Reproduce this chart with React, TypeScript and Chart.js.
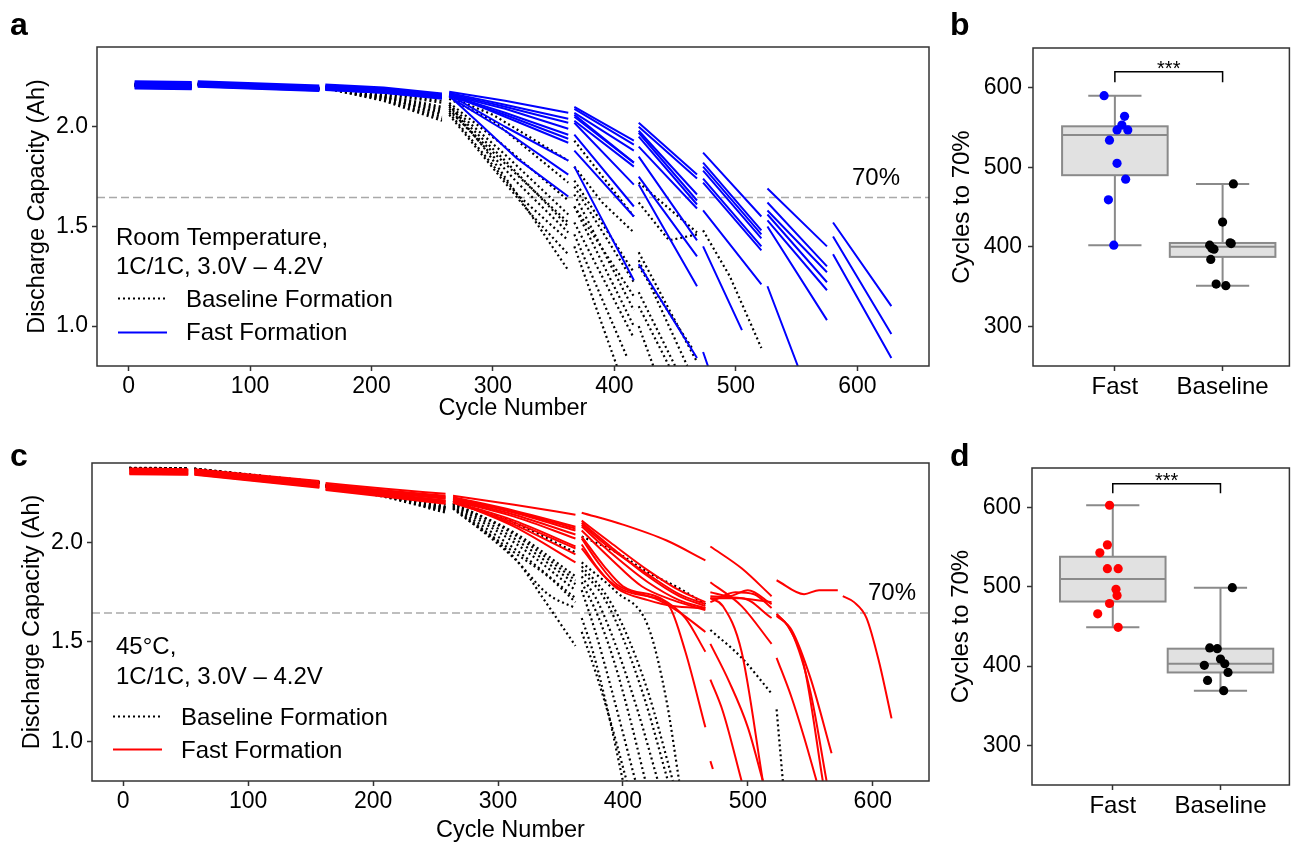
import React, { useEffect, useRef } from "react";
import { Chart, registerables } from "chart.js";
Chart.register(...registerables);

const FONT = "'Liberation Sans', Arial, Helvetica, sans-serif";

type Cell = number[][][];

// ---------------- Panel a : room temperature ----------------
const rtXTicks = [0, 100, 200, 300, 400, 500, 600];
const rtYTicks = [1.0, 1.5, 2.0];
const rtYTickLabels = ["1.0", "1.5", "2.0"];

const rtFastCells: Cell[] = [
  [[[5,2.228],[52,2.224]],[[57,2.228],[157,2.207]],[[162,2.212],[210,2.197],[258,2.167]],[[264,2.175],[310,2.13],[362,2.07]],[[367,2.10],[416,1.93]],[[420,2.02],[468,1.76]],[[473,1.87],[521,1.55]],[[526,1.69],[575,1.40]],[[580,1.52],[628,1.10]]],
  [[[5,2.222],[52,2.218]],[[57,2.223],[157,2.201]],[[162,2.206],[210,2.191],[258,2.161]],[[264,2.17],[310,2.11],[362,2.04]],[[367,2.09],[416,1.91]],[[420,2.0],[468,1.74]],[[473,1.82],[521,1.48]],[[526,1.62],[575,1.30]],[[580,1.45],[628,0.96]]],
  [[[5,2.215],[52,2.21]],[[57,2.218],[157,2.195]],[[162,2.2],[210,2.185],[258,2.155]],[[264,2.165],[310,2.1],[362,2.02]],[[367,2.07],[416,1.88]],[[420,1.98],[468,1.66]],[[473,1.8],[521,1.46]],[[526,1.58],[575,1.27]],[[580,1.36],[628,0.84]]],
  [[[5,2.208],[52,2.203]],[[57,2.212],[157,2.189]],[[162,2.195],[210,2.179],[258,2.149]],[[264,2.16],[310,2.09],[362,1.99]],[[367,2.06],[416,1.82]],[[420,1.97],[468,1.63]],[[473,1.78],[521,1.44]],[[526,1.56],[575,1.22]]],
  [[[5,2.2],[52,2.195]],[[57,2.206],[157,2.184]],[[162,2.189],[210,2.174],[258,2.145]],[[264,2.16],[310,2.07],[362,1.96]],[[367,2.05],[416,1.82]],[[420,1.95],[468,1.61]],[[473,1.74],[521,1.40]],[[526,1.53],[575,1.18]]],
  [[[5,2.192],[52,2.188]],[[57,2.2],[157,2.179]],[[162,2.184],[210,2.17],[258,2.141]],[[264,2.155],[310,2.06],[362,1.94]],[[367,2.03],[416,1.8]],[[420,1.9],[468,1.59]],[[473,1.72],[521,1.38]],[[526,1.5],[575,1.03]]],
  [[[5,2.219],[52,2.213]],[[57,2.221],[157,2.198]],[[162,2.203],[210,2.187],[258,2.156]],[[264,2.165],[310,2.05],[362,1.92]],[[367,2.02],[416,1.71]],[[420,1.85],[468,1.43]],[[473,1.58],[521,1.21]],[[526,1.2],[551,0.8]]],
  [[[5,2.211],[52,2.206]],[[57,2.215],[157,2.192]],[[162,2.197],[210,2.18],[258,2.152]],[[264,2.16],[310,2.0],[362,1.83]],[[367,1.96],[416,1.6]],[[420,1.75],[468,1.35]],[[473,1.4],[505,0.98]]],
  [[[5,2.204],[52,2.199]],[[57,2.209],[157,2.187]],[[162,2.192],[210,2.173],[258,2.148]],[[264,2.155],[290,2.01],[320,1.84],[362,1.65]],[[367,1.8],[416,1.23]],[[420,1.31],[468,0.84]],[[473,0.87],[477,0.8]]],
  [[[5,2.196],[52,2.191]],[[57,2.203],[157,2.182]],[[162,2.186],[210,2.17],[258,2.144]],[[264,2.15],[310,1.98],[362,1.76]],[[367,1.88],[416,1.55]],[[420,1.71],[468,1.2]]],
];

const rtBaselineCells: Cell[] = [
  [[[5,2.215],[52,2.21]],[[57,2.218],[157,2.195]],[[162,2.2],[210,2.17],[258,2.13]],[[264,2.15],[300,2.06],[362,1.83]],[[367,1.93],[416,1.55]],[[420,1.72],[468,1.47]],[[473,1.48],[495,1.25],[521,0.89]]],
  [[[5,2.21],[52,2.205]],[[57,2.214],[157,2.192]],[[162,2.2],[210,2.165],[258,2.12]],[[264,2.14],[300,2.03],[362,1.72]],[[367,1.8],[390,1.62],[416,1.47]],[[420,1.62],[445,1.43],[468,1.46]]],
  [[[5,2.212],[52,2.207]],[[57,2.215],[157,2.193]],[[162,2.198],[210,2.16],[258,2.1]],[[264,2.12],[310,1.9],[362,1.63]],[[367,1.73],[416,1.27]],[[420,1.37],[468,0.82]]],
  [[[5,2.208],[52,2.203]],[[57,2.212],[157,2.19]],[[162,2.198],[210,2.155],[258,2.09]],[[264,2.11],[310,1.86],[362,1.56]],[[367,1.7],[416,1.22]],[[420,1.33],[460,0.8]]],
  [[[5,2.206],[52,2.2]],[[57,2.21],[157,2.188]],[[162,2.196],[210,2.15],[258,2.08]],[[264,2.1],[310,1.83],[362,1.5]],[[367,1.66],[416,1.08]],[[420,1.17],[450,0.8]]],
  [[[5,2.204],[52,2.198]],[[57,2.208],[157,2.186]],[[162,2.195],[210,2.145],[258,2.07]],[[264,2.09],[320,1.72],[362,1.47]],[[367,1.6],[416,1.0]],[[420,1.1],[445,0.8]]],
  [[[5,2.214],[52,2.208]],[[57,2.216],[157,2.194]],[[162,2.194],[210,2.14],[258,2.05]],[[264,2.07],[320,1.66],[362,1.43]],[[367,1.52],[416,0.94]],[[420,1.0],[432,0.8]]],
  [[[5,2.21],[52,2.204]],[[57,2.213],[157,2.19]],[[162,2.193],[210,2.13],[258,2.03]],[[264,2.11],[292,1.9],[319,1.67],[341,1.47],[362,1.28]],[[367,1.4],[402,0.8]]],
  [[[5,2.207],[52,2.202]],[[57,2.211],[157,2.189]],[[162,2.193],[210,2.135],[258,2.04]],[[264,2.06],[330,1.57],[362,1.36]],[[367,1.46],[410,0.85]]],
  [[[5,2.205],[52,2.199]],[[57,2.209],[157,2.187]],[[162,2.196],[210,2.15],[258,2.06]],[[264,2.08],[330,1.7],[362,1.52]],[[367,1.6],[416,1.15]],[[420,1.3],[465,0.88]]],
];

// ---------------- Panel c : 45 °C ----------------
const htXTicks = [0, 100, 200, 300, 400, 500, 600];
const htYTicks = [1.0, 1.5, 2.0];
const htYTickLabels = ["1.0", "1.5", "2.0"];

const htFastCells: Cell[] = [
  [[[5,2.372],[52,2.369]],[[57,2.369],[157,2.31]],[[162,2.30],[210,2.27],[258,2.245]],[[264,2.235],[313,2.19],[362,2.14]],[[367,2.15],[400,2.09],[435,2.01],[466,1.91]],[[470,1.98],[495,1.87],[519,1.73]],[[523,1.81],[545,1.74],[557,1.76],[572,1.76]],[[576,1.73],[585,1.70],[595,1.62],[605,1.40],[615,1.115]]],
  [[[5,2.366],[52,2.363]],[[57,2.363],[157,2.30]],[[162,2.292],[210,2.262],[258,2.235]],[[264,2.228],[313,2.16],[362,2.08]],[[367,2.11],[390,2.0],[420,1.86],[445,1.76],[466,1.70]],[[470,1.75],[485,1.73],[500,1.76],[519,1.69]],[[523,1.63],[535,1.56],[550,1.32],[567,0.94]]],
  [[[5,2.362],[52,2.359]],[[57,2.359],[157,2.297]],[[162,2.287],[210,2.256],[258,2.225]],[[264,2.22],[313,2.155],[362,2.07]],[[367,2.10],[390,1.98],[420,1.83],[445,1.73],[466,1.68]],[[470,1.70],[490,1.75],[505,1.74],[519,1.67]],[[523,1.64],[535,1.55],[550,1.25],[563,0.80]]],
  [[[5,2.357],[52,2.354]],[[57,2.354],[157,2.292]],[[162,2.282],[210,2.25],[258,2.22]],[[264,2.215],[313,2.14],[362,2.04]],[[367,2.08],[390,1.95],[420,1.80],[445,1.71],[466,1.67]],[[470,1.72],[495,1.72],[519,1.62]],[[523,1.42],[535,1.22],[545,1.02],[555,0.80]]],
  [[[5,2.352],[52,2.349]],[[57,2.349],[157,2.287]],[[162,2.277],[210,2.244],[258,2.21]],[[264,2.21],[313,2.13],[362,2.02]],[[367,2.06],[390,1.92],[415,1.78],[440,1.71],[466,1.66]],[[470,1.80],[495,1.68],[519,1.49]]],
  [[[5,2.346],[52,2.343]],[[57,2.343],[157,2.279]],[[162,2.268],[210,2.235],[258,2.20]],[[264,2.205],[313,2.11],[362,1.98]],[[367,2.03],[385,1.88],[400,1.78],[430,1.72],[450,1.62],[466,1.45]],[[470,1.49],[485,1.30],[500,1.07],[512,0.80]]],
  [[[5,2.344],[52,2.341]],[[57,2.341],[157,2.275]],[[162,2.264],[210,2.23],[258,2.195]],[[264,2.2],[313,2.10],[362,1.97]],[[367,2.02],[380,1.90],[395,1.79],[420,1.73],[437,1.68],[450,1.45],[466,1.07]],[[470,0.90],[472,0.86]]],
  [[[5,2.36],[52,2.357]],[[57,2.357],[157,2.29]],[[162,2.28],[210,2.245],[258,2.21]],[[264,2.21],[313,2.08],[362,1.90]],[[367,1.97],[385,1.83],[400,1.76],[425,1.72],[445,1.65],[466,1.55]],[[470,1.31],[480,1.15],[495,0.80]]],
  [[[5,2.35],[52,2.347]],[[57,2.347],[157,2.283]],[[162,2.272],[210,2.24],[258,2.205]],[[264,2.205],[313,2.09],[362,1.94]],[[367,1.99],[380,1.87],[395,1.77],[420,1.71],[440,1.68],[466,1.67]],[[470,1.72],[480,1.68],[495,1.45],[512,0.80]]],
  [[[5,2.368],[52,2.365]],[[57,2.365],[157,2.302]],[[162,2.292],[210,2.26],[258,2.23]],[[264,2.222],[313,2.15],[362,2.06]],[[367,2.09],[390,1.97],[420,1.84],[445,1.74],[466,1.69]],[[470,1.73],[495,1.72],[519,1.70]],[[523,1.64],[532,1.58],[545,1.38],[560,0.80]]],
];

const htBaselineCells: Cell[] = [
  [[[5,2.376],[52,2.374]],[[57,2.372],[157,2.305]],[[162,2.29],[210,2.25],[258,2.19]],[[264,2.21],[313,2.10],[362,1.95]],[[367,2.03],[395,1.95],[420,1.85],[445,1.77],[466,1.69]],[[470,1.56],[495,1.42],[519,1.24]],[[523,1.16],[528,0.80]]],
  [[[5,2.374],[52,2.372]],[[57,2.37],[157,2.302]],[[162,2.288],[210,2.245],[258,2.18]],[[264,2.20],[313,2.04],[362,1.81]],[[367,1.88],[385,1.75],[400,1.58],[420,1.25],[440,0.80]]],
  [[[5,2.375],[52,2.373]],[[57,2.371],[157,2.301]],[[162,2.286],[210,2.24],[258,2.175]],[[264,2.195],[313,2.02],[362,1.79]],[[367,1.86],[385,1.72],[400,1.52],[418,1.20],[436,0.80]]],
  [[[5,2.373],[52,2.371]],[[57,2.369],[157,2.3]],[[162,2.285],[210,2.238],[258,2.17]],[[264,2.19],[313,2.0],[362,1.76]],[[367,1.83],[380,1.70],[395,1.47],[412,1.15],[428,0.80]]],
  [[[5,2.374],[52,2.372]],[[57,2.37],[157,2.3]],[[162,2.284],[210,2.235],[258,2.165]],[[264,2.185],[313,1.97],[362,1.72]],[[367,1.80],[380,1.63],[393,1.40],[405,1.13],[418,0.80]]],
  [[[5,2.375],[52,2.373]],[[57,2.371],[157,2.3]],[[162,2.283],[210,2.232],[258,2.16]],[[264,2.18],[313,1.95],[340,1.83],[362,1.70]],[[367,1.76],[378,1.55],[390,1.28],[410,0.80]]],
  [[[5,2.373],[52,2.371]],[[57,2.369],[157,2.299]],[[162,2.282],[210,2.23],[258,2.155]],[[264,2.175],[313,1.92],[340,1.74],[362,1.67]],[[367,1.62],[376,1.45],[388,1.15],[400,0.80]]],
  [[[5,2.374],[52,2.372]],[[57,2.37],[157,2.3]],[[162,2.28],[210,2.228],[258,2.15]],[[264,2.17],[315,1.91],[336,1.72],[362,1.48]],[[367,1.55],[378,1.35],[390,1.10],[403,0.80]]],
  [[[5,2.375],[52,2.373]],[[57,2.371],[157,2.301]],[[162,2.287],[210,2.243],[258,2.178]],[[264,2.197],[313,2.05],[362,1.83]],[[367,1.90],[395,1.75],[420,1.58],[435,1.20],[445,0.80]]],
];

// ---------------- Panels b, d : cycles to 70% ----------------
const groupLabels = ["Fast", "Baseline"];
const boxYTicks = [300, 400, 500, 600];

const rtFastCycles = [590, 564, 553, 547, 547, 534, 505, 485, 459, 402];
const rtFastJitter = [-0.1, 0.09, 0.065, 0.02, 0.12, -0.05, 0.02, 0.1, -0.06, -0.01];
const rtBaseCycles = [479, 431, 405, 404, 402, 398, 397, 384, 353, 351];
const rtBaseJitter = [0.1, 0.0, 0.07, 0.08, -0.12, -0.1, -0.08, -0.11, -0.06, 0.03];

const htFastCycles = [603, 553, 543, 523, 523, 497, 489, 479, 466, 449];
const htFastJitter = [-0.03, -0.05, -0.12, -0.05, 0.05, 0.03, 0.04, -0.03, -0.14, 0.05];
const htBaseCycles = [499, 423, 422, 409, 403, 401, 392, 382, 369];
const htBaseJitter = [0.11, -0.1, -0.03, 0.0, 0.04, -0.15, 0.07, -0.12, 0.03];

// ---------------- helpers ----------------
function cellToData(cell: Cell) {
  const out: { x: number; y: number | null }[] = [];
  cell.forEach((seg, i) => {
    if (i > 0) {
      const prev = cell[i - 1];
      out.push({ x: (prev[prev.length - 1][0] + seg[0][0]) / 2, y: null });
    }
    seg.forEach(([x, y]) => out.push({ x, y }));
  });
  return out;
}

function quantile(sorted: number[], q: number) {
  const pos = (sorted.length - 1) * q;
  const lo = Math.floor(pos);
  const hi = Math.ceil(pos);
  return sorted[lo] + (sorted[hi] - sorted[lo]) * (pos - lo);
}

function font(size: number, bold = false) {
  return `${bold ? "bold " : ""}${size}px ${FONT}`;
}

type TextItem = { text: string; x: number; y: number; size: number; bold?: boolean };
type Sample = { x1: number; x2: number; y: number; dotted: boolean; color: string };

interface LineCfg {
  left: number; top: number; w: number; h: number;
  area: { left: number; right: number; top: number; bottom: number };
  xMin: number; xMax: number; xTicks: number[];
  yMin: number; yMax: number; yTicks: number[]; yTickLabels: string[];
  fast: Cell[]; base: Cell[]; color: string; thresh: number; smooth: boolean;
  yTitleOffset: number;
  texts: TextItem[]; samples: Sample[];
}

function axisCommon() {
  return {
    grid: { display: true, drawOnChartArea: false, drawTicks: true, tickLength: 5, tickWidth: 1.5, tickColor: "#333" },
    border: { display: false },
  };
}

function drawFrame(chart: any) {
  const { ctx, chartArea: a } = chart;
  ctx.save();
  ctx.strokeStyle = "#333";
  ctx.lineWidth = 1.5;
  ctx.strokeRect(a.left, a.top, a.right - a.left, a.bottom - a.top);
  ctx.restore();
}

function drawTexts(ctx: CanvasRenderingContext2D, texts: TextItem[]) {
  ctx.save();
  ctx.fillStyle = "#000";
  ctx.textBaseline = "alphabetic";
  ctx.textAlign = "left";
  texts.forEach((t) => {
    ctx.font = font(t.size, t.bold);
    ctx.fillText(t.text, t.x, t.y);
  });
  ctx.restore();
}

function buildLineChart(canvas: HTMLCanvasElement, c: LineCfg) {
  const datasets: any[] = [];
  const interp = c.smooth ? { cubicInterpolationMode: "monotone" } : {};
  c.fast.forEach((cell) =>
    datasets.push({
      data: cellToData(cell), borderColor: c.color, borderWidth: 2, pointRadius: 0, order: 0,
      borderJoinStyle: "round", spanGaps: false, ...interp,
    })
  );
  c.base.forEach((cell) =>
    datasets.push({
      data: cellToData(cell), borderColor: "#000", borderWidth: 2.2, borderDash: [2, 3], pointRadius: 0, order: 1,
      spanGaps: false, ...interp,
    })
  );
  const decor = {
    id: "decor",
    beforeDatasetsDraw(chart: any) {
      const { ctx, chartArea: a } = chart;
      const y = chart.scales.y.getPixelForValue(c.thresh);
      ctx.save();
      ctx.strokeStyle = "#a9a9a9";
      ctx.lineWidth = 1.6;
      ctx.setLineDash([8, 4]);
      ctx.beginPath();
      ctx.moveTo(a.left, y);
      ctx.lineTo(a.right, y);
      ctx.stroke();
      ctx.restore();
    },
    afterDraw(chart: any) {
      const ctx = chart.ctx;
      drawFrame(chart);
      drawTexts(ctx, c.texts);
      c.samples.forEach((s) => {
        ctx.save();
        ctx.strokeStyle = s.color;
        ctx.lineWidth = s.dotted ? 2.2 : 2;
        if (s.dotted) ctx.setLineDash([2, 3]);
        ctx.beginPath();
        ctx.moveTo(s.x1, s.y);
        ctx.lineTo(s.x2, s.y);
        ctx.stroke();
        ctx.restore();
      });
    },
  };
  return new Chart(canvas, {
    type: "line",
    data: { datasets },
    options: {
      animation: false,
      responsive: false,
      devicePixelRatio: 1,
      events: [],
      layout: { padding: { top: c.area.top, right: c.w - c.area.right, left: 0, bottom: 0 } },
      plugins: { legend: { display: false }, tooltip: { enabled: false } },
      scales: {
        x: {
          type: "linear", min: c.xMin, max: c.xMax,
          ...axisCommon(),
          afterBuildTicks: (s: any) => { s.ticks = c.xTicks.map((v) => ({ value: v })); },
          afterFit: (s: any) => { s.height = c.h - c.area.bottom; },
          ticks: { font: { size: 23, family: FONT }, color: "#000", padding: 2, maxRotation: 0, autoSkip: false,
            callback: (v: any) => String(v) },
          title: { display: true, text: "Cycle Number", color: "#000", font: { size: 23.5, family: FONT, lineHeight: 1 }, padding: { top: 0, bottom: 0 } },
        },
        y: {
          type: "linear", min: c.yMin, max: c.yMax,
          ...axisCommon(),
          afterBuildTicks: (s: any) => { s.ticks = c.yTicks.map((v) => ({ value: v })); },
          afterFit: (s: any) => { s.width = c.area.left; },
          ticks: { font: { size: 23, family: FONT }, color: "#000", padding: 4,
            callback: (v: any) => { const i = c.yTicks.indexOf(v); return i >= 0 ? c.yTickLabels[i] : ""; } },
          title: { display: true, text: "Discharge Capacity (Ah)", color: "#000", font: { size: 23.5, family: FONT, lineHeight: 1 }, padding: { top: c.yTitleOffset, bottom: 0 } },
        },
      },
    } as any,
    plugins: [decor],
  });
}

interface Group { values: number[]; jitter: number[]; color: string }
interface BoxCfg {
  left: number; top: number; w: number; h: number;
  area: { left: number; right: number; top: number; bottom: number };
  xMin: number; xMax: number;
  groups: Group[];
  bracket: { top: number; leg: number };
  yTitleOffset: number;
  texts: TextItem[];
}

function buildBoxChart(canvas: HTMLCanvasElement, c: BoxCfg) {
  const datasets = c.groups.map((g, gi) => ({
    data: g.values.map((v, i) => ({ x: gi + g.jitter[i], y: v })),
    pointRadius: 4.6, pointBackgroundColor: g.color, pointBorderWidth: 0, showLine: false,
  }));
  const decor = {
    id: "boxes",
    beforeDatasetsDraw(chart: any) {
      const { ctx } = chart;
      const xs = chart.scales.x, ys = chart.scales.y;
      c.groups.forEach((g, gi) => {
        const s = [...g.values].sort((a, b) => a - b);
        const q1 = quantile(s, 0.25), med = quantile(s, 0.5), q3 = quantile(s, 0.75);
        const lo = s[0], hi = s[s.length - 1];
        const xl = xs.getPixelForValue(gi - 0.49), xr = xs.getPixelForValue(gi + 0.49);
        const xc = xs.getPixelForValue(gi);
        const cl = xs.getPixelForValue(gi - 0.247), cr = xs.getPixelForValue(gi + 0.247);
        ctx.save();
        ctx.strokeStyle = "#8a8a8a";
        ctx.lineWidth = 2;
        ctx.beginPath();
        ctx.moveTo(xc, ys.getPixelForValue(q3)); ctx.lineTo(xc, ys.getPixelForValue(hi));
        ctx.moveTo(xc, ys.getPixelForValue(q1)); ctx.lineTo(xc, ys.getPixelForValue(lo));
        ctx.moveTo(cl, ys.getPixelForValue(hi)); ctx.lineTo(cr, ys.getPixelForValue(hi));
        ctx.moveTo(cl, ys.getPixelForValue(lo)); ctx.lineTo(cr, ys.getPixelForValue(lo));
        ctx.stroke();
        const yt = ys.getPixelForValue(q3), yb = ys.getPixelForValue(q1);
        ctx.fillStyle = "#e1e1e1";
        ctx.fillRect(xl, yt, xr - xl, yb - yt);
        ctx.strokeRect(xl, yt, xr - xl, yb - yt);
        ctx.beginPath();
        ctx.moveTo(xl, ys.getPixelForValue(med)); ctx.lineTo(xr, ys.getPixelForValue(med));
        ctx.stroke();
        ctx.restore();
      });
    },
    afterDraw(chart: any) {
      const { ctx } = chart;
      const xs = chart.scales.x, ys = chart.scales.y;
      drawFrame(chart);
      const x0 = xs.getPixelForValue(0), x1 = xs.getPixelForValue(1);
      const yt = ys.getPixelForValue(c.bracket.top), yl = ys.getPixelForValue(c.bracket.leg);
      ctx.save();
      ctx.strokeStyle = "#000";
      ctx.lineWidth = 1.5;
      ctx.beginPath();
      ctx.moveTo(x0, yl); ctx.lineTo(x0, yt); ctx.lineTo(x1, yt); ctx.lineTo(x1, yl);
      ctx.stroke();
      ctx.fillStyle = "#000";
      ctx.font = font(20);
      ctx.textAlign = "center";
      ctx.textBaseline = "alphabetic";
      ctx.fillText("***", (x0 + x1) / 2, yt + 3);
      ctx.restore();
      drawTexts(ctx, c.texts);
    },
  };
  return new Chart(canvas, {
    type: "scatter",
    data: { datasets },
    options: {
      animation: false,
      responsive: false,
      devicePixelRatio: 1,
      events: [],
      layout: { padding: { top: c.area.top, right: c.w - c.area.right, left: 0, bottom: 0 } },
      plugins: { legend: { display: false }, tooltip: { enabled: false } },
      scales: {
        x: {
          type: "linear", min: c.xMin, max: c.xMax,
          ...axisCommon(),
          afterBuildTicks: (s: any) => { s.ticks = groupLabels.map((_, i) => ({ value: i })); },
          afterFit: (s: any) => { s.height = c.h - c.area.bottom; },
          ticks: { font: { size: 24, family: FONT }, color: "#000", padding: 2, maxRotation: 0, autoSkip: false,
            callback: (v: any) => groupLabels[v] ?? "" },
        },
        y: {
          type: "linear", min: 250, max: 650,
          ...axisCommon(),
          afterBuildTicks: (s: any) => { s.ticks = boxYTicks.map((v) => ({ value: v })); },
          afterFit: (s: any) => { s.width = c.area.left; },
          ticks: { font: { size: 23, family: FONT }, color: "#000", padding: 6, callback: (v: any) => String(v) },
          title: { display: true, text: "Cycles to 70%", color: "#000", font: { size: 24, family: FONT, lineHeight: 1 }, padding: { top: c.yTitleOffset, bottom: 0 } },
        },
      },
    } as any,
    plugins: [decor],
  });
}

// ---------------- panel configs ----------------
const panelA: LineCfg = {
  left: 0, top: 0, w: 940, h: 420,
  area: { left: 97, right: 929, top: 47, bottom: 366 },
  xMin: -26, xMax: 659, xTicks: rtXTicks,
  yMin: 0.8, yMax: 2.4, yTicks: rtYTicks, yTickLabels: rtYTickLabels,
  fast: rtFastCells, base: rtBaselineCells, color: "#0000ff", thresh: 1.645, smooth: false,
  yTitleOffset: 25.5,
  texts: [
    { text: "a", x: 10, y: 35, size: 32, bold: true },
    { text: "Room Temperature,", x: 116, y: 245, size: 24 },
    { text: "1C/1C, 3.0V \u2013 4.2V", x: 116, y: 273.5, size: 24 },
    { text: "Baseline Formation", x: 186, y: 306.5, size: 24 },
    { text: "Fast Formation", x: 186, y: 340, size: 24 },
    { text: "70%", x: 852, y: 185, size: 24 },
  ],
  samples: [
    { x1: 118, x2: 167, y: 298.5, dotted: true, color: "#000" },
    { x1: 118, x2: 167, y: 332.5, dotted: false, color: "#0000ff" },
  ],
};

const panelC: LineCfg = {
  left: 0, top: 420, w: 940, h: 422,
  area: { left: 92, right: 929, top: 43, bottom: 361 },
  xMin: -25, xMax: 645, xTicks: htXTicks,
  yMin: 0.8, yMax: 2.4, yTicks: htYTicks, yTickLabels: htYTickLabels,
  fast: htFastCells, base: htBaselineCells, color: "#ff0000", thresh: 1.645, smooth: true,
  yTitleOffset: 20.5,
  texts: [
    { text: "c", x: 10, y: 46, size: 32, bold: true },
    { text: "45\u00B0C,", x: 116, y: 234, size: 24 },
    { text: "1C/1C, 3.0V \u2013 4.2V", x: 116, y: 263.5, size: 24 },
    { text: "Baseline Formation", x: 181, y: 304.5, size: 24 },
    { text: "Fast Formation", x: 181, y: 338, size: 24 },
    { text: "70%", x: 868, y: 180, size: 24 },
  ],
  samples: [
    { x1: 113, x2: 162, y: 296.5, dotted: true, color: "#000" },
    { x1: 113, x2: 162, y: 329.5, dotted: false, color: "#ff0000" },
  ],
};

const panelB: BoxCfg = {
  left: 940, top: 0, w: 354, h: 420,
  area: { left: 93, right: 350, top: 48, bottom: 366 },
  xMin: -0.76, xMax: 1.62,
  groups: [
    { values: rtFastCycles, jitter: rtFastJitter, color: "#0000ff" },
    { values: rtBaseCycles, jitter: rtBaseJitter, color: "#000000" },
  ],
  bracket: { top: 620, leg: 607 },
  yTitleOffset: 10.5,
  texts: [{ text: "b", x: 10, y: 35, size: 32, bold: true }],
};

const panelD: BoxCfg = {
  left: 940, top: 420, w: 354, h: 422,
  area: { left: 92, right: 350, top: 48, bottom: 365 },
  xMin: -0.75, xMax: 1.64,
  groups: [
    { values: htFastCycles, jitter: htFastJitter, color: "#ff0000" },
    { values: htBaseCycles, jitter: htBaseJitter, color: "#000000" },
  ],
  bracket: { top: 630, leg: 618 },
  yTitleOffset: 9.7,
  texts: [{ text: "d", x: 10, y: 46, size: 32, bold: true }],
};

// ---------------- components ----------------
function LinePanel({ cfg }: { cfg: LineCfg }) {
  const ref = useRef<HTMLCanvasElement>(null);
  useEffect(() => {
    const chart = buildLineChart(ref.current!, cfg);
    return () => chart.destroy();
  }, [cfg]);
  return (
    <canvas ref={ref} width={cfg.w} height={cfg.h}
      style={{ position: "absolute", left: cfg.left, top: cfg.top, width: cfg.w, height: cfg.h }} />
  );
}

function BoxPanel({ cfg }: { cfg: BoxCfg }) {
  const ref = useRef<HTMLCanvasElement>(null);
  useEffect(() => {
    const chart = buildBoxChart(ref.current!, cfg);
    return () => chart.destroy();
  }, [cfg]);
  return (
    <canvas ref={ref} width={cfg.w} height={cfg.h}
      style={{ position: "absolute", left: cfg.left, top: cfg.top, width: cfg.w, height: cfg.h }} />
  );
}

export default function App() {
  return (
    <div style={{ position: "absolute", left: 0, top: 0, width: 1294, height: 842, background: "#fff", overflow: "hidden" }}>
      <LinePanel cfg={panelA} />
      <BoxPanel cfg={panelB} />
      <LinePanel cfg={panelC} />
      <BoxPanel cfg={panelD} />
    </div>
  );
}
